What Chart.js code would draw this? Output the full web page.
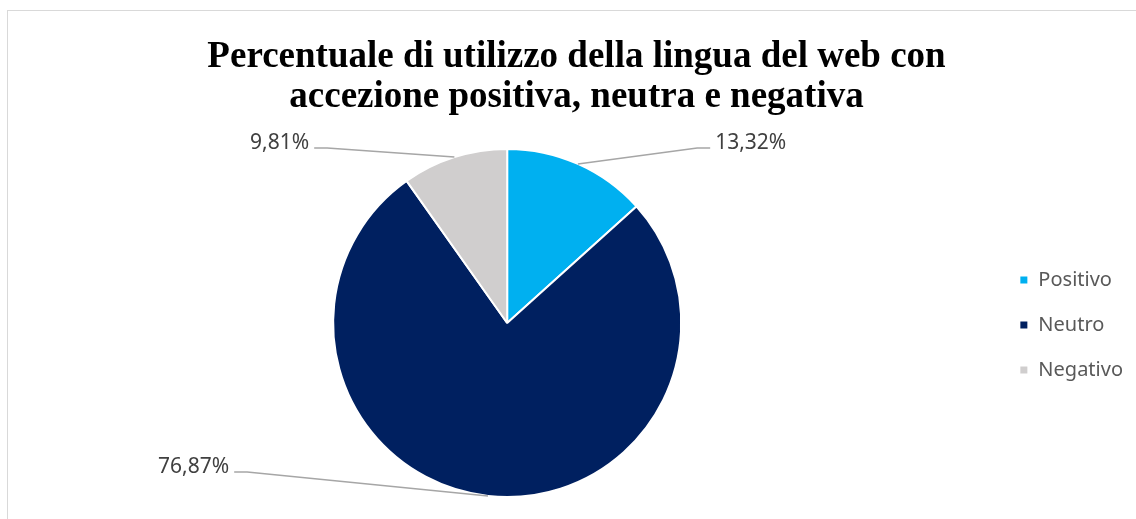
<!DOCTYPE html>
<html>
<head>
<meta charset="utf-8">
<script src="https://cdn.jsdelivr.net/npm/chart.js@4.4.0/dist/chart.umd.min.js"></script>
<style>
  html, body { margin: 0; padding: 0; background: #fff; overflow: hidden; }
  #frame { position: absolute; left: 7px; top: 10px; width: 1200px; height: 600px; border: 1px solid #d9d9d9; }
  #myCanvas { position: absolute; left: 0; top: 0; }
</style>
</head>
<body>
<div id="frame"></div>
<canvas id="myCanvas" width="1136" height="519"></canvas>
<script>
const titleLines = ["Percentuale di utilizzo della lingua del web con", "accezione positiva, neutra e negativa"];
const categories = ["Positivo", "Neutro", "Negativo"];
const percentages = [13.32, 76.87, 9.81];
const sliceColors = ["#00b0f0", "#002060", "#d0cece"];

// where each leader line bends, relative to the pie centre
const labelElbows = [[190, -175], [-260, 149], [-180, -175]];

const formatPct = v => v.toFixed(2).replace(".", ",") + "%";

// outside labels with leader lines, like the Excel original
const leaderLabels = {
  id: "leaderLabels",
  afterDatasetsDraw(chart) {
    const ctx = chart.ctx;
    const arcs = chart.getDatasetMeta(0).data;
    ctx.save();
    ctx.font = "21px 'Noto Sans'";
    arcs.forEach((arc, i) => {
      const { x, y, startAngle, endAngle, outerRadius } =
        arc.getProps(["x", "y", "startAngle", "endAngle", "outerRadius"], true);
      const mid = (startAngle + endAngle) / 2;
      const sx = x + Math.cos(mid) * outerRadius;
      const sy = y + Math.sin(mid) * outerRadius;
      const ex = x + labelElbows[i][0];
      const ey = y + labelElbows[i][1];
      const dir = ex < x ? -1 : 1;
      const hx = ex + dir * 13;
      ctx.strokeStyle = "#a6a6a6";
      ctx.lineWidth = 1.5;
      ctx.beginPath();
      ctx.moveTo(sx, sy);
      ctx.lineTo(ex, ey);
      ctx.lineTo(hx, ey);
      ctx.stroke();
      ctx.fillStyle = "#404040";
      ctx.textAlign = dir < 0 ? "right" : "left";
      ctx.textBaseline = "alphabetic";
      ctx.fillText(formatPct(percentages[i]), hx + dir * 5, ey + 1);
    });
    ctx.restore();
  }
};

const context = document.getElementById("myCanvas").getContext("2d");
new Chart(context, {
  type: "pie",
  data: {
    labels: categories,
    datasets: [{
      data: percentages,
      backgroundColor: sliceColors,
      borderColor: "#ffffff",
      borderWidth: 2
    }]
  },
  options: {
    responsive: false,
    animation: false,
    layout: { padding: { left: 20, right: 3, top: 0, bottom: 21 } },
    plugins: {
      title: {
        display: true,
        text: titleLines,
        color: "#000000",
        font: { family: "'Liberation Serif', 'Times New Roman', serif", size: 37, weight: "bold", lineHeight: 1.08 },
        padding: { top: 37, bottom: 31 }
      },
      legend: {
        position: "right",
        // empty legend title only pushes the items down to the pie's middle
        title: { display: true, text: "", font: { size: 10, lineHeight: 1.4 }, padding: { top: 138, bottom: 0 } },
        labels: {
          boxWidth: 9,
          boxHeight: 9,
          padding: 25,
          color: "#595959",
          font: { family: "'Noto Sans'", size: 20 }
        }
      },
      tooltip: { enabled: false }
    }
  },
  plugins: [leaderLabels]
});
</script>
</body>
</html>
